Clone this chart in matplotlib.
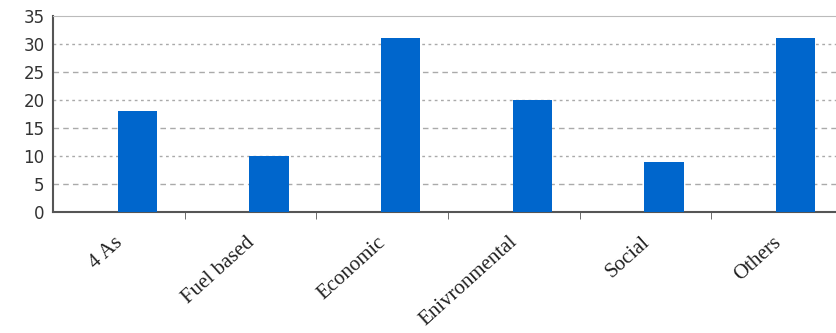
import numpy as np
import matplotlib.pyplot as plt
from matplotlib.transforms import ScaledTranslation

categories = ["4 As", "Fuel based", "Economic", "Enivronmental", "Social", "Others"]
values = [18, 10, 31, 20, 9, 31]
yticks = [0, 5, 10, 15, 20, 25, 30, 35]

fig = plt.figure(figsize=(8.36, 3.33), dpi=100)
ax = fig.add_axes([53 / 836, 121 / 333, 790 / 836, 196 / 333])

x = np.arange(len(categories))
ax.bar(x + 0.14, values, width=0.3, color="#0066CC", zorder=3)

ax.set_xlim(-0.5, len(categories) - 0.5)
ax.set_ylim(0, 35)
ax.set_yticks(yticks)
ax.set_yticklabels([str(t) for t in yticks], fontsize=12, color="#333333")
ax.tick_params(axis="y", length=0, pad=6)

ax.set_xticks(x)
ax.set_xticklabels(categories, rotation=42, ha="right", va="top",
                   rotation_mode="anchor", fontsize=15, family="Liberation Serif",
                   color="#222222")
ax.tick_params(axis="x", which="major", length=0, pad=15)
shift = ScaledTranslation(-0.05, 0, fig.dpi_scale_trans)
for lbl in ax.get_xticklabels():
    lbl.set_transform(lbl.get_transform() + shift)
ax.set_xticks(x[:-1] + 0.5, minor=True)
ax.tick_params(axis="x", which="minor", length=5, color="#555555", direction="out")

# grid lines alternate between dotted-ish and dashed
for i, t in enumerate(yticks[1:-1]):
    style = (0, (4, 3)) if i % 2 == 0 else (0, (2, 2.5))
    ax.axhline(t, color="#aaaaaa", lw=1, ls=style, zorder=1)

ax.spines["left"].set_color("#555555")
ax.spines["left"].set_linewidth(1.5)
ax.spines["bottom"].set_color("#555555")
ax.spines["bottom"].set_linewidth(1.5)
ax.spines["top"].set_color("#bbbbbb")
ax.spines["right"].set_visible(False)

fig.savefig("out.png", dpi=100)
